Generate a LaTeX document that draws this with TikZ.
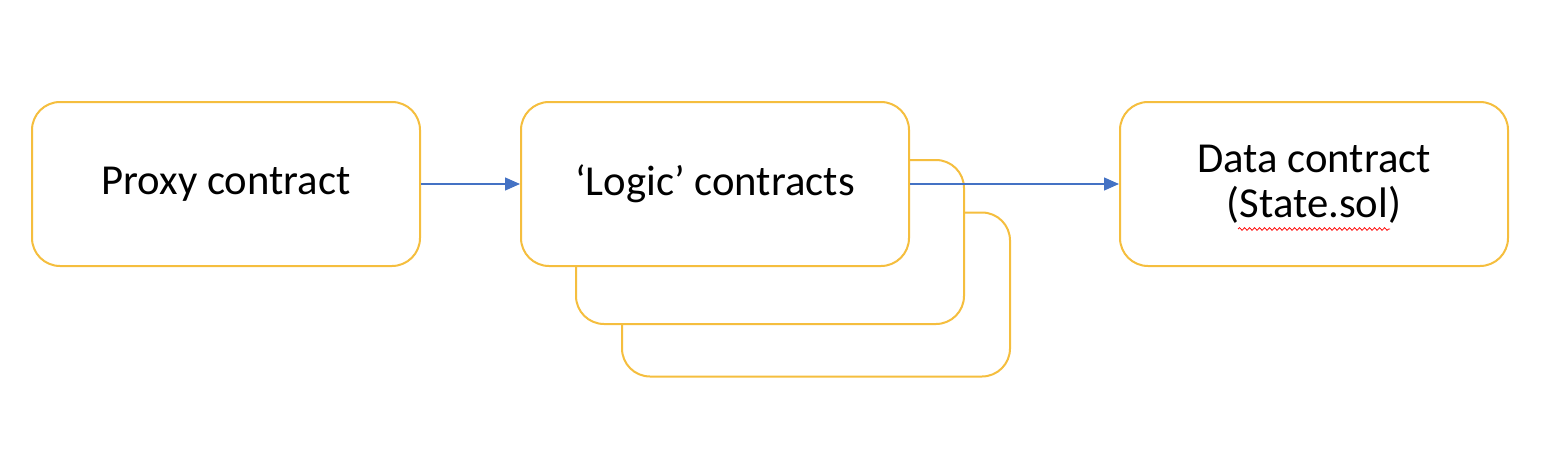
\documentclass[tikz,border=0pt]{standalone}
\usepackage{fontspec}
\setmainfont{Carlito}
\usetikzlibrary{arrows.meta,decorations.pathmorphing}
\definecolor{boxgold}{RGB}{245,190,62}
\definecolor{arrowblue}{RGB}{68,114,196}
\begin{document}
\begin{tikzpicture}[x=1pt,y=-1pt,
  cbox/.style={draw=boxgold, line width=2pt, rounded corners=28pt, fill=white,
    minimum width=388pt, minimum height=164pt, inner sep=0pt, align=center,
    font=\fontsize{42.7}{45}\selectfont},
  link/.style={draw=arrowblue, line width=1.3pt, -{Triangle[length=15pt,width=13pt]}}]
\useasboundingbox (0,0) rectangle (1568,452);
\node[cbox] (logic3) at (816,294.5) {};
\node[cbox] (logic2) at (770,242) {};
\node[cbox] (proxy) at (226,184) {Proxy contract};
\node[cbox] (logic) at (715,184) {‘Logic’ contracts};
\node[cbox] (data) at (1314,184) {Data contract\\(State.sol)};
\draw[link] (proxy.east) -- (logic.west);
\draw[link] (logic.east) -- (data.west);
\coordinate (sq1) at (1238,229);
\coordinate (sq2) at (1390,229);
\draw[red, line width=0.8pt, decorate, decoration={snake, amplitude=1.3pt, segment length=5pt}] (sq1) -- (sq2);
\end{tikzpicture}
\end{document}
